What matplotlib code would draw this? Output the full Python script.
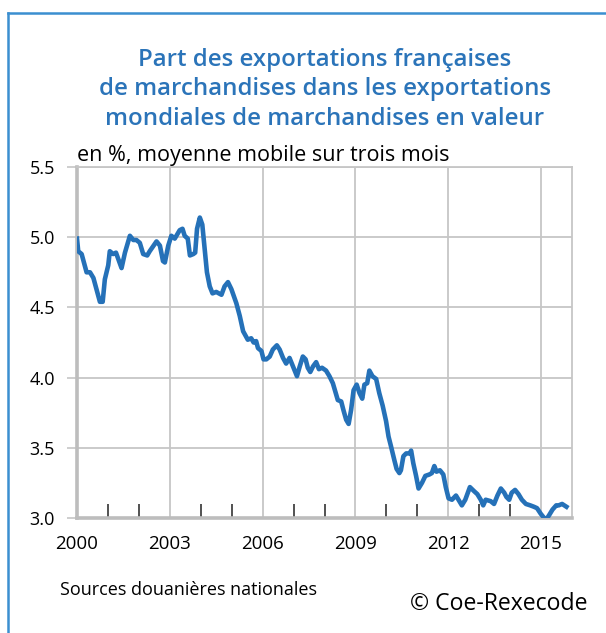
import matplotlib.pyplot as plt
from matplotlib.lines import Line2D
import numpy as np

# values (decimal year, share in %)
years = [2000.00, 2000.04, 2000.15, 2000.31, 2000.42, 2000.53, 2000.63, 2000.74, 2000.83,
         2000.90, 2001.01, 2001.06, 2001.17, 2001.26, 2001.44, 2001.55, 2001.71, 2001.82,
         2001.92, 2002.03, 2002.14, 2002.27, 2002.35, 2002.57, 2002.68, 2002.78, 2002.84,
         2002.95, 2003.05, 2003.16, 2003.32, 2003.41, 2003.48, 2003.58, 2003.65, 2003.76,
         2003.82, 2003.88, 2003.97, 2004.05, 2004.13, 2004.20, 2004.29, 2004.38, 2004.50,
         2004.67, 2004.77, 2004.88, 2004.99, 2005.15, 2005.26, 2005.37, 2005.52, 2005.63,
         2005.71, 2005.79, 2005.85, 2005.96, 2006.03, 2006.12, 2006.23, 2006.33, 2006.46,
         2006.55, 2006.66, 2006.76, 2006.87, 2006.98, 2007.11, 2007.20, 2007.30, 2007.39,
         2007.46, 2007.54, 2007.63, 2007.73, 2007.82, 2007.92, 2008.05, 2008.16, 2008.27,
         2008.35, 2008.43, 2008.54, 2008.61, 2008.70, 2008.78, 2008.86, 2008.94, 2009.04,
         2009.13, 2009.22, 2009.29, 2009.38, 2009.45, 2009.55, 2009.67, 2009.77, 2009.88,
         2009.99, 2010.07, 2010.15, 2010.26, 2010.33, 2010.42, 2010.47, 2010.55, 2010.64,
         2010.75, 2010.80, 2010.87, 2010.96, 2011.04, 2011.15, 2011.26, 2011.39, 2011.47,
         2011.55, 2011.62, 2011.73, 2011.84, 2011.92, 2012.01, 2012.12, 2012.25, 2012.33,
         2012.44, 2012.55, 2012.70, 2012.84, 2012.94, 2013.05, 2013.13, 2013.21, 2013.37,
         2013.48, 2013.59, 2013.70, 2013.81, 2013.88, 2013.97, 2014.05, 2014.16, 2014.27,
         2014.38, 2014.51, 2014.65, 2014.77, 2014.87, 2014.99, 2015.10, 2015.17, 2015.26,
         2015.37, 2015.49, 2015.57, 2015.68, 2015.82]
share = [4.99, 4.90, 4.88, 4.75, 4.75, 4.71, 4.63, 4.54, 4.54,
         4.70, 4.80, 4.90, 4.88, 4.89, 4.78, 4.89, 5.01, 4.98,
         4.98, 4.96, 4.88, 4.87, 4.90, 4.97, 4.94, 4.83, 4.82,
         4.94, 5.01, 4.99, 5.05, 5.06, 5.01, 4.99, 4.87, 4.88,
         4.89, 5.06, 5.14, 5.09, 4.91, 4.75, 4.65, 4.60, 4.61,
         4.59, 4.65, 4.68, 4.63, 4.53, 4.44, 4.33, 4.27, 4.28,
         4.25, 4.26, 4.21, 4.19, 4.13, 4.13, 4.15, 4.20, 4.23,
         4.20, 4.14, 4.10, 4.14, 4.08, 4.01, 4.08, 4.15, 4.13,
         4.07, 4.04, 4.08, 4.11, 4.06, 4.07, 4.05, 4.01, 3.96,
         3.90, 3.84, 3.83, 3.77, 3.70, 3.67, 3.77, 3.91, 3.95,
         3.89, 3.85, 3.95, 3.96, 4.05, 4.01, 3.99, 3.89, 3.80,
         3.69, 3.58, 3.51, 3.41, 3.35, 3.32, 3.34, 3.44, 3.46,
         3.46, 3.48, 3.39, 3.30, 3.21, 3.25, 3.30, 3.31, 3.32,
         3.37, 3.33, 3.34, 3.31, 3.22, 3.14, 3.13, 3.16, 3.13,
         3.09, 3.13, 3.22, 3.19, 3.17, 3.13, 3.09, 3.13, 3.12,
         3.10, 3.16, 3.21, 3.18, 3.15, 3.13, 3.18, 3.20, 3.17,
         3.13, 3.10, 3.09, 3.08, 3.07, 3.03, 3.00, 2.99, 3.02,
         3.06, 3.09, 3.09, 3.10, 3.08]

major_years = [2000, 2003, 2006, 2009, 2012, 2015]
minor_years = [y for y in range(2001, 2016) if y not in major_years]
y_ticks = [3.0, 3.5, 4.0, 4.5, 5.0, 5.5]

title = ("Part des exportations françaises\n"
         "de marchandises dans les exportations\n"
         "mondiales de marchandises en valeur")

plt.rcParams['font.family'] = ['Open Sans', 'DejaVu Sans']

fig = plt.figure(figsize=(6.06, 6.33), dpi=100)
ax = fig.add_axes([77/606, 1-518/633, (572-77)/606, (518-167)/633])

grid_c = '#c6c6c6'
for y in y_ticks[1:]:
    ax.axhline(y, color=grid_c, lw=1.3, zorder=1)
for x in major_years[1:]:
    ax.axvline(x, color=grid_c, lw=1.3, zorder=1)

ax.plot(years, share, color='#2571b8', lw=3.3, solid_joinstyle='round', zorder=3)

ax.set_xlim(2000, 2016)
ax.set_ylim(3.0, 5.5)
ax.set_yticks(y_ticks)
ax.set_yticklabels([f'{v:.1f}' for v in y_ticks])
ax.set_xticks(major_years)
ax.set_xticklabels([str(y) for y in major_years])
ax.set_xticks(minor_years, minor=True)

ax.tick_params(axis='y', direction='out', length=7, width=1.2, color=grid_c,
               labelsize=13, pad=9)
ax.tick_params(axis='x', which='major', length=0, labelsize=13.5, pad=12)
ax.tick_params(axis='x', which='minor', direction='in', length=10, width=1.1,
               color='#222222')

for side in ['left', 'bottom']:
    ax.spines[side].set_color('#bdbdbd')
    ax.spines[side].set_linewidth(2.6)
for side in ['top', 'right']:
    ax.spines[side].set_color(grid_c)
    ax.spines[side].set_linewidth(1.3)

fig.text(325/606, 1-48/633, title, ha='center', va='top', fontsize=17.3,
         fontweight='semibold', color='#2b74b9', linespacing=1.3)
fig.text(77/606, 1-161.5/633, "en %, moyenne mobile sur trois mois", ha='left',
         va='baseline', fontsize=15.5)
fig.text(60/606, 1-595/633, "Sources douanières nationales", ha='left',
         va='baseline', fontsize=13)
fig.text(588/606, 1-610/633, "© Coe-Rexecode", ha='right', va='baseline',
         fontsize=16.6)

# blue frame (top and left edges)
frame_c = '#3b8fd0'
fig.add_artist(Line2D([8/606, 1], [1-13/633, 1-13/633], color=frame_c, lw=1.8,
                      transform=fig.transFigure))
fig.add_artist(Line2D([8/606, 8/606], [0, 1-13/633], color=frame_c, lw=1.8,
                      transform=fig.transFigure))

fig.savefig('out.png', dpi=100)
